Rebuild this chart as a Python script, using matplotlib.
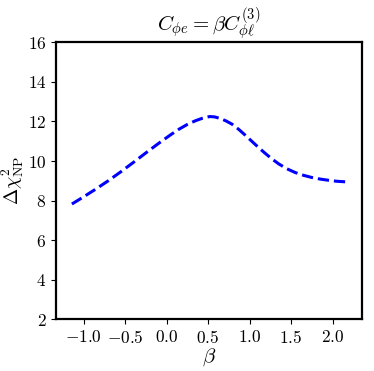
import matplotlib
matplotlib.use('Agg')
import matplotlib.pyplot as plt

# Delta chi^2 of NP scan along beta
beta = [-1.14, -1.00, -0.85, -0.70, -0.55, -0.40, -0.25, -0.10, 0.05, 0.15,
        0.25, 0.35, 0.43, 0.52, 0.58, 0.65, 0.72, 0.79, 0.87, 0.95,
        1.05, 1.11, 1.18, 1.26, 1.35, 1.45, 1.55, 1.65, 1.75, 1.85,
        1.95, 2.05, 2.16]
dchi2 = [7.83, 8.19, 8.59, 9.01, 9.46, 9.93, 10.41, 10.88, 11.33, 11.61,
         11.85, 12.04, 12.16, 12.25, 12.23, 12.15, 12.02, 11.86, 11.60, 11.30,
         10.91, 10.68, 10.42, 10.14, 9.86, 9.61, 9.42, 9.28, 9.17, 9.09,
         9.03, 8.98, 8.95]

plt.rcParams['font.family'] = 'serif'
plt.rcParams['font.serif'] = ['cmr10']
plt.rcParams['mathtext.fontset'] = 'cm'
plt.rcParams['axes.formatter.use_mathtext'] = True

fig = plt.figure(figsize=(3.74, 3.71), dpi=100)
ax = fig.add_axes([0.150, 0.139, 0.817, 0.747])

ax.plot(beta, dchi2, '--', color='blue', lw=2.2)

ax.set_xlim(-1.33, 2.35)
ax.set_ylim(2, 16)
ax.set_xticks([-1.0, -0.5, 0.0, 0.5, 1.0, 1.5, 2.0])
ax.set_yticks([2, 4, 6, 8, 10, 12, 14, 16])
ax.tick_params(labelsize=12.5, width=0.8, length=3.5)
for s in ax.spines.values():
    s.set_linewidth(1.6)

ax.set_xlabel(r'$\beta$', fontsize=15, labelpad=0)
ax.set_ylabel(r'$\Delta\chi^2_{\rm NP}$', fontsize=14, labelpad=1)
ax.set_title(r'$C_{\phi e} = \beta C_{\phi\ell}^{(3)}$', fontsize=15, pad=5)

fig.savefig('out.png', dpi=100)
